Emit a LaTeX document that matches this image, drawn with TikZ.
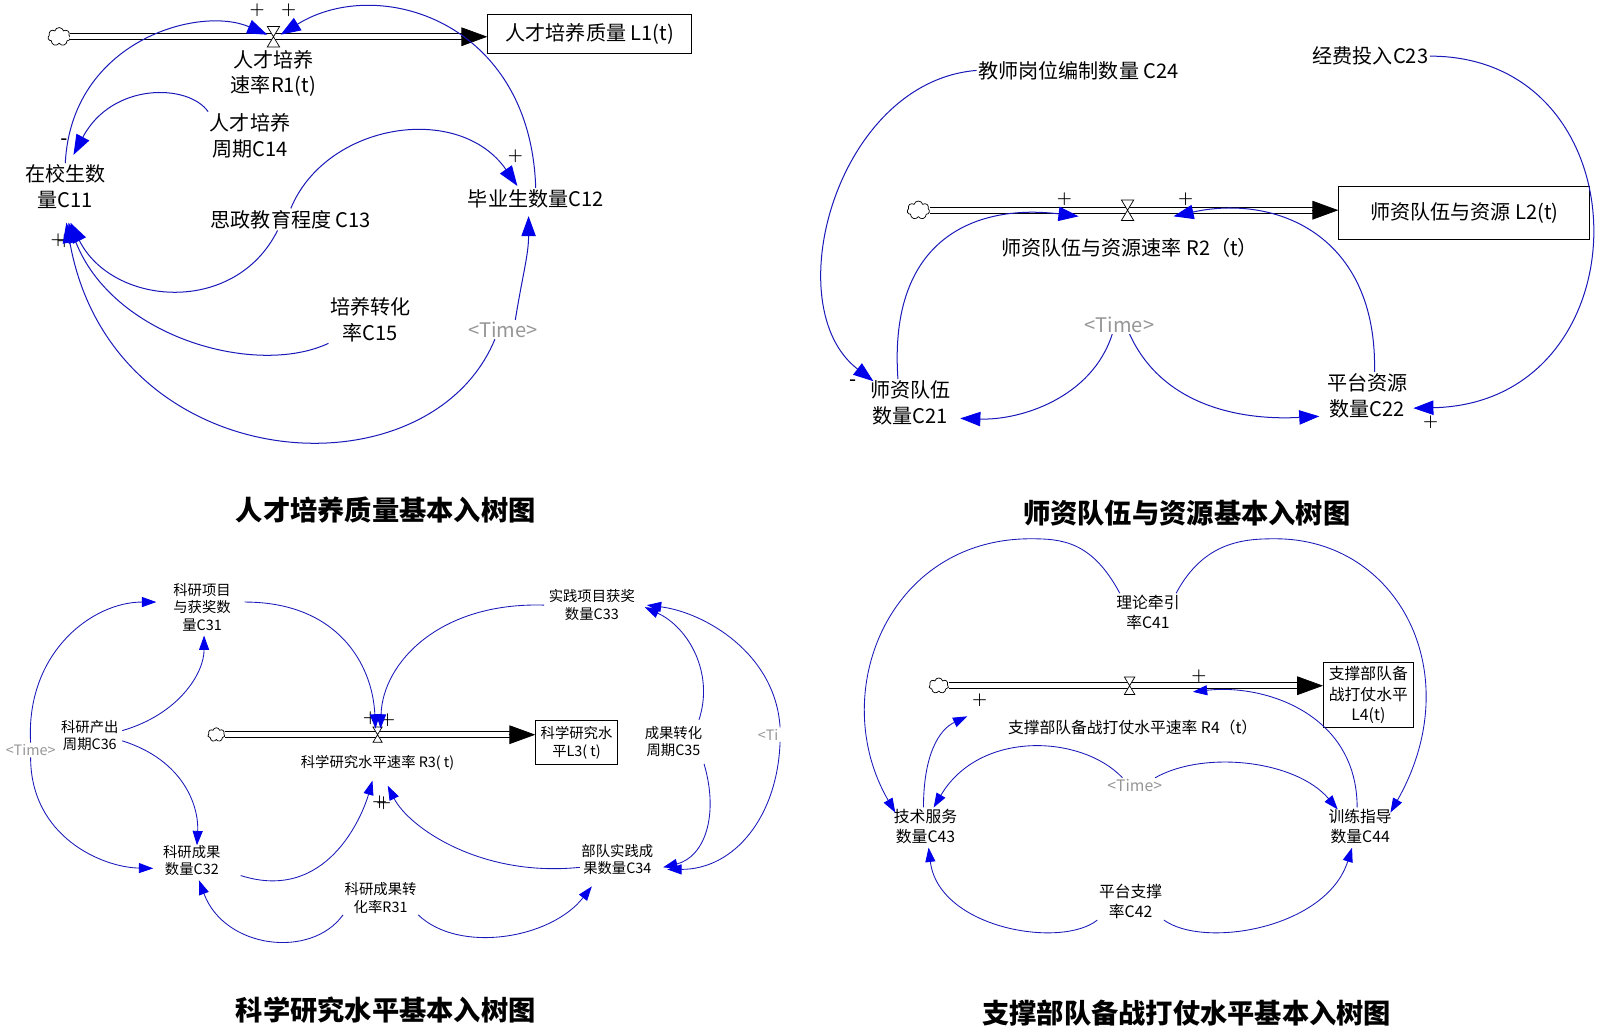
\documentclass[tikz,border=0pt]{standalone}
\usepackage{fontspec}
\newfontfamily\cjk{Noto Sans CJK SC}
\usetikzlibrary{arrows.meta, calc, shapes.symbols}

\definecolor{linkblue}{RGB}{25,25,185}
\definecolor{tipblue}{RGB}{0,0,235}
\definecolor{timegray}{RGB}{150,150,150}

\tikzset{
  valve/.pic={\draw[fill=white, line width=0.5pt] (-6,-10) -- (6,-10) -- (-6,10) -- (6,10) -- cycle;},
  lblA/.style={font=\cjk\fontsize{14}{18}\selectfont, align=center, inner sep=1pt},
  lblB/.style={font=\cjk\fontsize{10}{12}\selectfont, align=center, inner sep=1pt},
  lblC/.style={font=\cjk\fontsize{11}{14}\selectfont, align=center, inner sep=1pt},
  timeA/.style={lblA, text=timegray},
  timeB/.style={lblB, text=timegray},
  timeC/.style={lblC, text=timegray},
  titleA/.style={font=\cjk\bfseries\fontsize{19}{22}\selectfont},
  sgn/.style={font=\bfseries\fontsize{12}{12}\selectfont, inner sep=0pt},
  stock/.style={draw, line width=0.6pt, align=center, inner sep=1pt},
  cloudsrc/.style={cloud, cloud puffs=7, draw, fill=white, line width=0.5pt, minimum width=0.55cm, minimum height=0.45cm, inner sep=0pt},
  pipe/.style={double=white, double distance=3.4pt, line width=0.6pt, shorten >=17pt},
  pipetip/.style={-{Triangle[length=18pt, width=13pt]}, line width=0.5pt},
  linkA/.style={draw=linkblue, line width=0.7pt, -{Triangle[length=14pt, width=10pt, color=tipblue]}},
  linkB/.style={draw=linkblue, line width=0.6pt, -{Triangle[length=10pt, width=7pt, color=tipblue]}}
}

\begin{document}
\begin{tikzpicture}[x=0.025cm, y=-0.025cm]
  \useasboundingbox (0,0) rectangle (1568,1012);

  % 人才培养质量
  \node[cloudsrc] (cl1) at (58,36) {};
  \coordinate (v1) at (268,36);
  \node[stock, minimum width=5cm, minimum height=0.95cm, font=\cjk\fontsize{14}{18}\selectfont] (l1) at (578,33) {人才培养质量 L1(t)};
  \coordinate (p1) at (cl1.east -| l1.west);
  \draw[pipe] (cl1.east) -- (p1);
  \draw[pipetip] ($(p1)+(-26,0)$) -- (p1);
  \pic at (v1) {valve};

  \node[lblA] (r1) at (268,72) {人才培养\\速率R1(t)};
  \node[lblA] (c11) at (64,183) {在校生数\\量C11};
  \node[lblA] (c14) at (245,133) {人才培养\\周期C14};
  \node[lblA] (c13) at (285,215) {思政教育程度 C13};
  \node[lblA] (c12) at (525,195) {毕业生数量C12};
  \node[lblA] (c15) at (363,313) {培养转化\\率C15};
  \node[timeA] (tm1) at (493,323) {<Time>};
  \node[sgn] (s11) at (252,10) {+};
  \node[sgn] (s12) at (283,10) {+};
  \node[sgn] (s13) at (63,138) {-};
  \node[sgn] (s14) at (505,153) {+};
  \node[sgn] (s15) at (57,235) {+};
  \node[sgn] (s16) at (63,236) {+};

  \draw[linkA] (c11.north) .. controls (70,40) and (195,5) .. ($(v1)+(-6,-2)$);
  \draw[linkA] (c12.north) .. controls (520,20) and (370,-25) .. ($(v1)+(7,-2)$);
  \draw[linkA] (c14.north west) .. controls (185,82) and (110,80) .. ($(c11.north)+(8,-8)$);
  \draw[linkA] (c13.north) .. controls (320,120) and (450,100) .. ($(c12.north)+(-18,-2)$);
  \draw[linkA] ($(c13.south)+(-13,0)$) .. controls (230,310) and (110,300) .. ($(c11.south)+(5,12)$);
  \draw[linkA] (c15.south west) .. controls (250,370) and (110,330) .. ($(c11.south)+(3,12)$);
  \draw[linkA] ($(tm1.south)+(-8,0)$) .. controls (420,490) and (110,470) .. ($(c11.south)+(1,12)$);
  \draw[linkA] ($(tm1.north)+(12,0)$) .. controls (512,270) and (518,250) .. ($(c12.south)+(-7,6)$);

  \node[titleA] (t1) at (378,500) {人才培养质量基本入树图};

  % 师资队伍与资源
  \node[cloudsrc] (cl2) at (900,206) {};
  \coordinate (v2) at (1105,206);
  \node[stock, minimum width=6.15cm, minimum height=1.3cm, font=\cjk\fontsize{14}{18}\selectfont] (l2) at (1435,209) {师资队伍与资源 L2(t)};
  \coordinate (p2) at (cl2.east -| l2.west);
  \draw[pipe] (cl2.east) -- (p2);
  \draw[pipetip] ($(p2)+(-26,0)$) -- (p2);
  \pic at (v2) {valve};

  \node[lblA] (r2) at (1107,243) {师资队伍与资源速率 R2（t）};
  \node[lblA] (c24) at (1057,69) {教师岗位编制数量 C24};
  \node[lblA] (c23) at (1343,55) {经费投入C23};
  \node[timeA] (tm2) at (1097,318) {<Time>};
  \node[lblA] (c21) at (892,395) {师资队伍\\数量C21};
  \node[lblA] (c22) at (1340,388) {平台资源\\数量C22};
  \node[sgn] (s21) at (836,375) {-};
  \node[sgn] (s22) at (1402,414) {+};
  \node[sgn] (s23) at (1043,195) {+};
  \node[sgn] (s24) at (1162,195) {+};

  \draw[linkA] (c24.west) .. controls (820,80) and (760,300) .. ($(c21.north west)+(5,2)$);
  \draw[linkA] (c23.east) .. controls (1615,55) and (1615,395) .. ($(c22.east)+(4,12)$);
  \draw[linkA] ($(c21.north)+(-12,0)$) .. controls (870,230) and (960,200) .. ($(v2)+(-48,6)$);
  \draw[linkA] ($(c22.north)+(7,0)$) .. controls (1350,230) and (1250,190) .. ($(v2)+(45,6)$);
  \draw[linkA] ($(tm2.south)+(-7,0)$) .. controls (1070,390) and (1000,412) .. ($(c21.east)+(8,15)$);
  \draw[linkA] ($(tm2.south)+(10,0)$) .. controls (1140,400) and (1220,412) .. ($(c22.west)+(-6,20)$);

  \node[titleA] (t2) at (1163,503) {师资队伍与资源基本入树图};

  % 科学研究水平
  \node[cloudsrc, minimum width=0.42cm, minimum height=0.34cm] (cl3) at (212,720) {};
  \coordinate (v3) at (370,720);
  \node[stock, minimum width=2cm, minimum height=1.075cm, font=\cjk\fontsize{10}{12}\selectfont] (l3) at (565,728) {科学研究水\\平L3( t)};
  \coordinate (p3) at (cl3.east -| l3.west);
  \draw[pipe] (cl3.east) -- (p3);
  \draw[pipetip] ($(p3)+(-26,0)$) -- (p3);
  \pic[scale=0.75] at (v3) {valve};

  \node[lblB] (r3) at (370,748) {科学研究水平速率 R3( t)};
  \node[lblB] (c31) at (198,595) {科研项目\\与获奖数\\量C31};
  \node[lblB] (c36) at (88,721) {科研产出\\周期C36};
  \node[timeB] (tm3) at (30,735) {<Time>};
  \node[lblB] (c32) at (188,843) {科研成果\\数量C32};
  \node[lblB] (r31) at (373,880) {科研成果转\\化率R31};
  \node[lblB] (c34) at (605,842) {部队实践成\\果数量C34};
  \node[lblB] (c35) at (660,727) {成果转化\\周期C35};
  \node[lblB] (c33) at (580,593) {实践项目获奖\\数量C33};
  \node[timeB, anchor=west] (tm3r) at (741,720) {<Ti};
  \node[sgn] (s31) at (363,704) {+};
  \node[sgn] (s32) at (380,706) {+};
  \node[sgn] (s33) at (372,786) {+};
  \node[sgn] (s34) at (376,787) {+};

  \draw[linkB] (tm3.north) .. controls (25,640) and (90,590) .. ($(c31.west)+(-15,-5)$);
  \draw[linkB] (tm3.south) .. controls (30,820) and (100,850) .. ($(c32.west)+(-8,8)$);
  \draw[linkB] ($(c36.east)+(2,-5)$) .. controls (175,700) and (200,660) .. ($(c31.south)+(2,3)$);
  \draw[linkB] ($(c36.east)+(2,5)$) .. controls (180,745) and (195,790) .. ($(c32.north)+(5,2)$);
  \draw[linkB] ($(c31.east)+(12,-5)$) .. controls (330,590) and (365,650) .. ($(v3)+(-2,-6)$);
  \draw[linkB] ($(c33.west)+(-3,0)$) .. controls (430,590) and (375,650) .. ($(v3)+(3,-6)$);
  \draw[linkB] ($(c32.east)+(18,15)$) .. controls (320,885) and (355,800) .. ($(v3)+(-5,45)$);
  \draw[linkB] ($(c34.west)+(0,8)$) .. controls (470,860) and (400,810) .. ($(v3)+(10,50)$);
  \draw[linkB] (r31.south west) .. controls (305,940) and (220,930) .. ($(c32.south)+(7,3)$);
  \draw[linkB] (r31.south east) .. controls (450,935) and (540,920) .. ($(c34.south)+(-25,10)$);
  \draw[linkB] ($(c35.north)+(25,-5)$) .. controls (700,660) and (675,615) .. ($(c33.east)+(8,2)$);
  \draw[linkB] ($(c35.south)+(30,5)$) .. controls (705,800) and (690,840) .. ($(c34.east)+(8,8)$);
  \draw[linkB] (tm3r.north east) .. controls (760,640) and (690,600) .. ($(c33.east)+(10,0)$);
  \draw[linkB] (tm3r.south east) .. controls (762,800) and (720,852) .. ($(c34.east)+(12,10)$);

  \node[titleA] (t3) at (378,990) {科学研究水平基本入树图};

  % 支撑部队备战打仗水平
  \node[cloudsrc, minimum width=0.48cm, minimum height=0.38cm] (cl4) at (920,672) {};
  \coordinate (v4) at (1107,672);
  \node[stock, minimum width=2.2cm, minimum height=1.6cm, font=\cjk\fontsize{11}{14}\selectfont] (l4) at (1341,681) {支撑部队备\\战打仗水平\\L4(t)};
  \coordinate (p4) at (cl4.east -| l4.west);
  \draw[pipe] (cl4.east) -- (p4);
  \draw[pipetip] ($(p4)+(-26,0)$) -- (p4);
  \pic[scale=0.85] at (v4) {valve};

  \node[lblC] (r4) at (1110,713) {支撑部队备战打仗水平速率 R4（t）};
  \node[lblC] (c41) at (1125,600) {理论牵引\\率C41};
  \node[timeC] (tm4) at (1112,770) {<Time>};
  \node[lblC] (c43) at (907,810) {技术服务\\数量C43};
  \node[lblC] (c44) at (1333,810) {训练指导\\数量C44};
  \node[lblC] (c42) at (1108,883) {平台支撑\\率C42};
  \node[sgn] (s41) at (960,686) {+};
  \node[sgn] (s42) at (1175,663) {+};

  \draw[linkB] ($(c41.north west)+(5,0)$) .. controls (1070,530) and (1040,528) .. (1010,528) .. controls (870,528) and (810,680) .. ($(c43.north west)+(3,5)$);
  \draw[linkB] ($(c41.north east)+(-5,0)$) .. controls (1180,530) and (1220,528) .. (1250,528) .. controls (1370,528) and (1440,660) .. ($(c44.north east)+(-3,5)$);
  \draw[linkB] ($(c43.north)+(-2,0)$) .. controls (905,740) and (920,715) .. ($(v4)+(-159,30)$);
  \draw[linkB] ($(c44.north)+(-3,0)$) .. controls (1330,700) and (1240,670) .. ($(v4)+(62,6)$);
  \draw[linkB] ($(tm4.north)+(-12,0)$) .. controls (1060,720) and (960,715) .. ($(c43.north)+(8,0)$);
  \draw[linkB] ($(tm4.north)+(20,0)$) .. controls (1180,735) and (1270,745) .. ($(c44.north)+(-22,2)$);
  \draw[linkB] (c42.south west) .. controls (1040,930) and (920,910) .. ($(c43.south)+(3,2)$);
  \draw[linkB] (c42.south east) .. controls (1180,930) and (1300,910) .. ($(c44.south)+(-8,2)$);

  \node[titleA] (t4) at (1163,993) {支撑部队备战打仗水平基本入树图};
\end{tikzpicture}
\end{document}
